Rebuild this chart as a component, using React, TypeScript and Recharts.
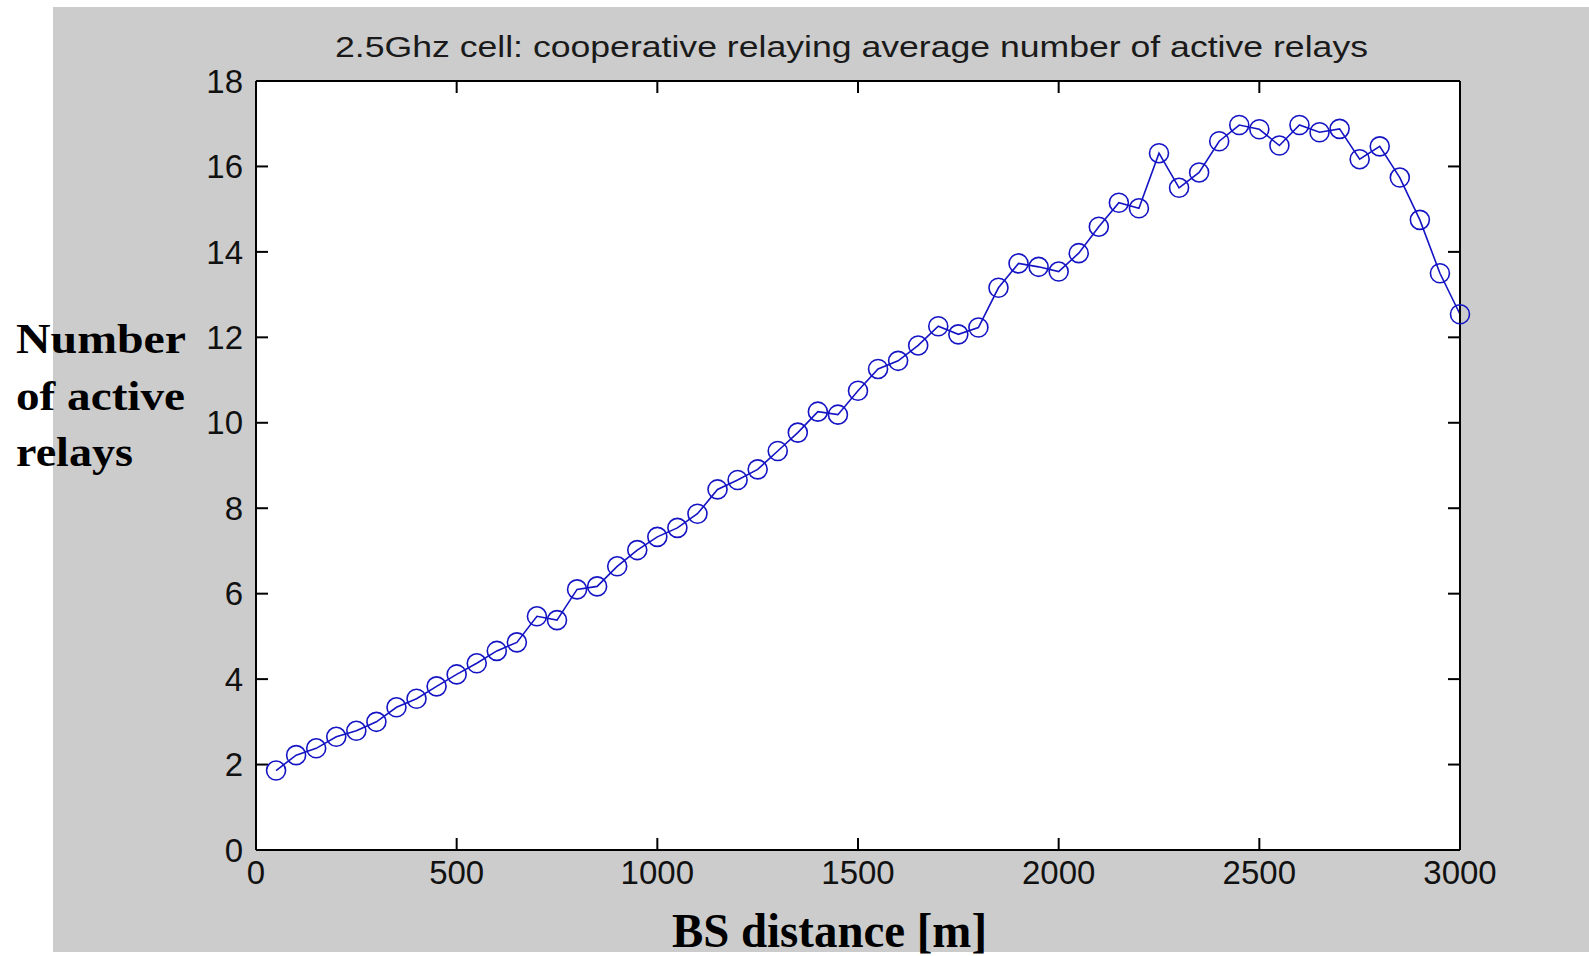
import React from "react";
import {
  LineChart,
  Line,
  XAxis,
  YAxis,
  Label,
  ReferenceLine,
} from "recharts";

const distances = [
  50, 100, 150, 200, 250, 300, 350, 400, 450, 500,
  550, 600, 650, 700, 750, 800, 850, 900, 950, 1000,
  1050, 1100, 1150, 1200, 1250, 1300, 1350, 1400, 1450, 1500,
  1550, 1600, 1650, 1700, 1750, 1800, 1850, 1900, 1950, 2000,
  2050, 2100, 2150, 2200, 2250, 2300, 2350, 2400, 2450, 2500,
  2550, 2600, 2650, 2700, 2750, 2800, 2850, 2900, 2950, 3000,
];

const activeRelays = [
  1.86, 2.22, 2.38, 2.65, 2.79, 3.0, 3.34, 3.54, 3.83, 4.11,
  4.37, 4.66, 4.86, 5.47, 5.38, 6.1, 6.17, 6.64, 7.02, 7.33,
  7.54, 7.87, 8.44, 8.66, 8.91, 9.34, 9.77, 10.26, 10.19, 10.75,
  11.26, 11.45, 11.81, 12.26, 12.07, 12.23, 13.16, 13.73, 13.65, 13.54,
  13.97, 14.59, 15.15, 15.02, 16.31, 15.5, 15.86, 16.59, 16.97, 16.87,
  16.49, 16.97, 16.8, 16.88, 16.17, 16.47, 15.74, 14.75, 13.5, 12.54,
];

const xTicks = [0, 500, 1000, 1500, 2000, 2500, 3000];
const yTicks = [0, 2, 4, 6, 8, 10, 12, 14, 16, 18];

const titleText = "2.5Ghz cell: cooperative relaying average number of active relays";
const xLabelText = "BS distance [m]";
const yLabelLines = ["Number", "of active", "relays"];

const data = distances.map((d, i) => ({ distance: d, relays: activeRelays[i] }));

const LINE_COLOR = "#1414c4";
const SANS = "'Liberation Sans', Arial, sans-serif";
const SERIF = "'Liberation Serif', 'Times New Roman', serif";
const TICK_LEN = 12;

const renderTitle = () => (
  <text
    x={335}
    y={57}
    fontSize={30}
    fontFamily={SANS}
    fill="#1a1a1a"
    textLength={1033}
    lengthAdjust="spacingAndGlyphs"
  >
    {titleText}
  </text>
);

const renderXLabel = () => (
  <text
    x={672}
    y={947}
    fontSize={48}
    fontWeight="bold"
    fontFamily={SERIF}
    fill="#000"
    textLength={315}
    lengthAdjust="spacingAndGlyphs"
  >
    {xLabelText}
  </text>
);

const yLineLengths = [170, 169, 117];
const renderYLabel = () => (
  <g>
    {yLabelLines.map((t, i) => (
      <text
        key={t}
        x={16}
        y={353 + i * 56.5}
        fontSize={43}
        fontWeight="bold"
        fontFamily={SERIF}
        fill="#000"
        textLength={yLineLengths[i]}
        lengthAdjust="spacingAndGlyphs"
      >
        {t}
      </text>
    ))}
  </g>
);

const axisLineStyle = { stroke: "#000", strokeWidth: 2 };
const tickStyle = { fontSize: 33, fill: "#111", fontFamily: SANS };

// inward tick marks on both ends of each reference line
const HTickShape = (p: any) => {
  const xa = Math.min(Number(p.x1), Number(p.x2));
  const xb = Math.max(Number(p.x1), Number(p.x2));
  const y = Number(p.y1);
  return (
    <g>
      <line x1={xa} x2={xa + TICK_LEN} y1={y} y2={y} stroke="#000" strokeWidth={2} />
      <line x1={xb - TICK_LEN} x2={xb} y1={y} y2={y} stroke="#000" strokeWidth={2} />
    </g>
  );
};

const VTickShape = (p: any) => {
  const ya = Math.min(Number(p.y1), Number(p.y2));
  const yb = Math.max(Number(p.y1), Number(p.y2));
  const x = Number(p.x1);
  return (
    <g>
      <line x1={x} x2={x} y1={ya} y2={ya + TICK_LEN} stroke="#000" strokeWidth={2} />
      <line x1={x} x2={x} y1={yb - TICK_LEN} y2={yb} stroke="#000" strokeWidth={2} />
    </g>
  );
};

export default function App() {
  return (
    <div
      style={{
        position: "absolute",
        left: 0,
        top: 0,
        width: 1589,
        height: 956,
        background: "#ffffff",
        overflow: "hidden",
      }}
    >
      <div
        style={{
          position: "absolute",
          left: 53,
          top: 7,
          width: 1536,
          height: 945,
          background: "#cccccc",
        }}
      />
      <div
        style={{
          position: "absolute",
          left: 256,
          top: 81,
          width: 1204,
          height: 769,
          background: "#ffffff",
        }}
      />
      <div style={{ position: "absolute", left: 0, top: 0 }}>
        <LineChart
          width={1589}
          height={956}
          data={data}
          margin={{ top: 51, right: 69, bottom: 56, left: 196 }}
        >
          <XAxis
            dataKey="distance"
            type="number"
            domain={[0, 3000]}
            ticks={xTicks}
            interval={0}
            height={50}
            axisLine={axisLineStyle}
            tickLine={false}
            tickSize={0}
            tickMargin={11}
            tick={tickStyle}
          >
            <Label content={renderXLabel} />
          </XAxis>
          <XAxis
            xAxisId="top"
            orientation="top"
            dataKey="distance"
            type="number"
            domain={[0, 3000]}
            ticks={xTicks}
            interval={0}
            height={30}
            axisLine={axisLineStyle}
            tickLine={false}
            tick={false}
          >
            <Label content={renderTitle} />
          </XAxis>
          <YAxis
            type="number"
            domain={[0, 18]}
            ticks={yTicks}
            interval={0}
            width={60}
            axisLine={axisLineStyle}
            tickLine={false}
            tickSize={0}
            tickMargin={13}
            tick={tickStyle}
          >
            <Label content={renderYLabel} />
          </YAxis>
          <YAxis
            yAxisId="right"
            orientation="right"
            type="number"
            domain={[0, 18]}
            ticks={yTicks}
            interval={0}
            width={60}
            axisLine={axisLineStyle}
            tickLine={false}
            tick={false}
          />
          {yTicks.map((v) => (
            <ReferenceLine key={`y${v}`} y={v} shape={HTickShape} ifOverflow="visible" />
          ))}
          {xTicks.map((v) => (
            <ReferenceLine key={`x${v}`} x={v} shape={VTickShape} ifOverflow="visible" />
          ))}
          <Line
            dataKey="relays"
            type="linear"
            stroke={LINE_COLOR}
            strokeWidth={1.6}
            dot={{ r: 9.5, stroke: LINE_COLOR, strokeWidth: 1.6, fill: "none" }}
            activeDot={false}
            isAnimationActive={false}
          />
        </LineChart>
      </div>
    </div>
  );
}
